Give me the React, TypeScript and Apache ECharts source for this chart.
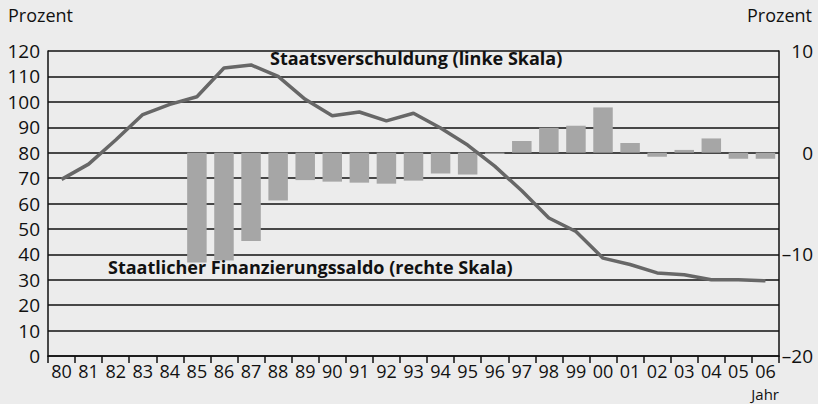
import React, { useEffect, useRef } from "react";
import * as echarts from "echarts";

const years = ["80","81","82","83","84","85","86","87","88","89","90","91","92","93","94","95","96","97","98","99","00","01","02","03","04","05","06"];
const debt = [69.5, 75.5, 85, 95, 99, 102, 113.3, 114.5, 110, 101, 94.5, 96, 92.5, 95.5, 89.7, 83, 74.7, 65, 54.3, 49, 38.5, 36, 32.7, 32, 30, 30, 29.6];
const saldo: (number | null)[] = [null, null, null, null, null, -10.8, -10.6, -8.7, -4.7, -2.7, -2.85, -2.95, -3.05, -2.75, -2.05, -2.15, -0.12, 1.15, 2.45, 2.65, 4.45, 0.95, -0.4, 0.27, 1.4, -0.6, -0.6];
const leftTicks = { min: 0, max: 120, interval: 10 };
const rightTicks = { min: -20, max: 10, interval: 10 };
const debtLabel = "Staatsverschuldung (linke Skala)";
const saldoLabel = "Staatlicher Finanzierungssaldo (rechte Skala)";

const FONT = "'Open Sans', sans-serif";

export default function App() {
  const ref = useRef<HTMLDivElement>(null);
  useEffect(() => {
    if (!ref.current) return;
    const chart = echarts.init(ref.current, undefined, { renderer: "svg" });
    chart.setOption({
      animation: false,
      backgroundColor: "#ececec",
      grid: { left: 48, top: 51, right: 39, bottom: 48 },
      xAxis: {
        type: "category",
        data: years,
        boundaryGap: true,
        axisLine: { show: true, lineStyle: { color: "#111", width: 1.5 } },
        axisTick: { show: true, alignWithLabel: false, length: 7, lineStyle: { color: "#111", width: 1.5 } },
        axisLabel: { color: "#111", fontFamily: FONT, fontSize: 18, margin: 6, interval: 0, lineHeight: 17 },
      },
      yAxis: [
        {
          type: "value",
          min: leftTicks.min,
          max: leftTicks.max,
          interval: leftTicks.interval,
          position: "left",
          axisLine: { show: true, lineStyle: { color: "#111", width: 1.5 } },
          axisTick: { show: false },
          splitLine: { show: true, lineStyle: { color: "#111", width: 1.5 } },
          axisLabel: { color: "#111", fontFamily: FONT, fontSize: 19, margin: 8, lineHeight: 20, padding: [0, 0, 5, 0] },
        },
        {
          type: "value",
          min: rightTicks.min,
          max: rightTicks.max,
          interval: rightTicks.interval,
          position: "right",
          axisLine: { show: true, lineStyle: { color: "#111", width: 1.5 } },
          axisTick: { show: false },
          splitLine: { show: false },
          axisLabel: {
            color: "#111",
            fontFamily: FONT,
            fontSize: 19,
            align: "right",
            margin: 34,
            lineHeight: 20,
            padding: [0, 0, 5, 0],
            formatter: (v: number) => String(v).replace("-", "\u2013"),
          },
        },
      ],
      series: [
        {
          type: "bar",
          yAxisIndex: 1,
          data: saldo,
          barWidth: 19.5,
          itemStyle: { color: "#a6a6a6" },
          z: 2,
        },
        {
          type: "line",
          yAxisIndex: 0,
          data: debt,
          symbol: "none",
          lineStyle: { color: "#676767", width: 3.5 },
          z: 3,
        },
      ],
      graphic: [
        { type: "text", left: 8, top: 6, style: { text: "Prozent", font: `18px ${FONT}`, fill: "#111" } },
        { type: "text", right: 6, top: 6, style: { text: "Prozent", font: `18px ${FONT}`, fill: "#111" } },
        { type: "text", right: 39, top: 386, style: { text: "Jahr", font: `15px ${FONT}`, lineHeight: 15, fill: "#111" } },
        { type: "text", left: 270, top: 49, z: 10, style: { text: debtLabel, font: `bold 18px ${FONT}`, fill: "#111" } },
        { type: "text", left: 108, top: 258, z: 10, style: { text: saldoLabel, font: `bold 18px ${FONT}`, fill: "#111" } },
      ],
    });
    return () => chart.dispose();
  }, []);
  return <div ref={ref} style={{ position: "fixed", left: 0, top: 0, width: 818, height: 404 }} />;
}
